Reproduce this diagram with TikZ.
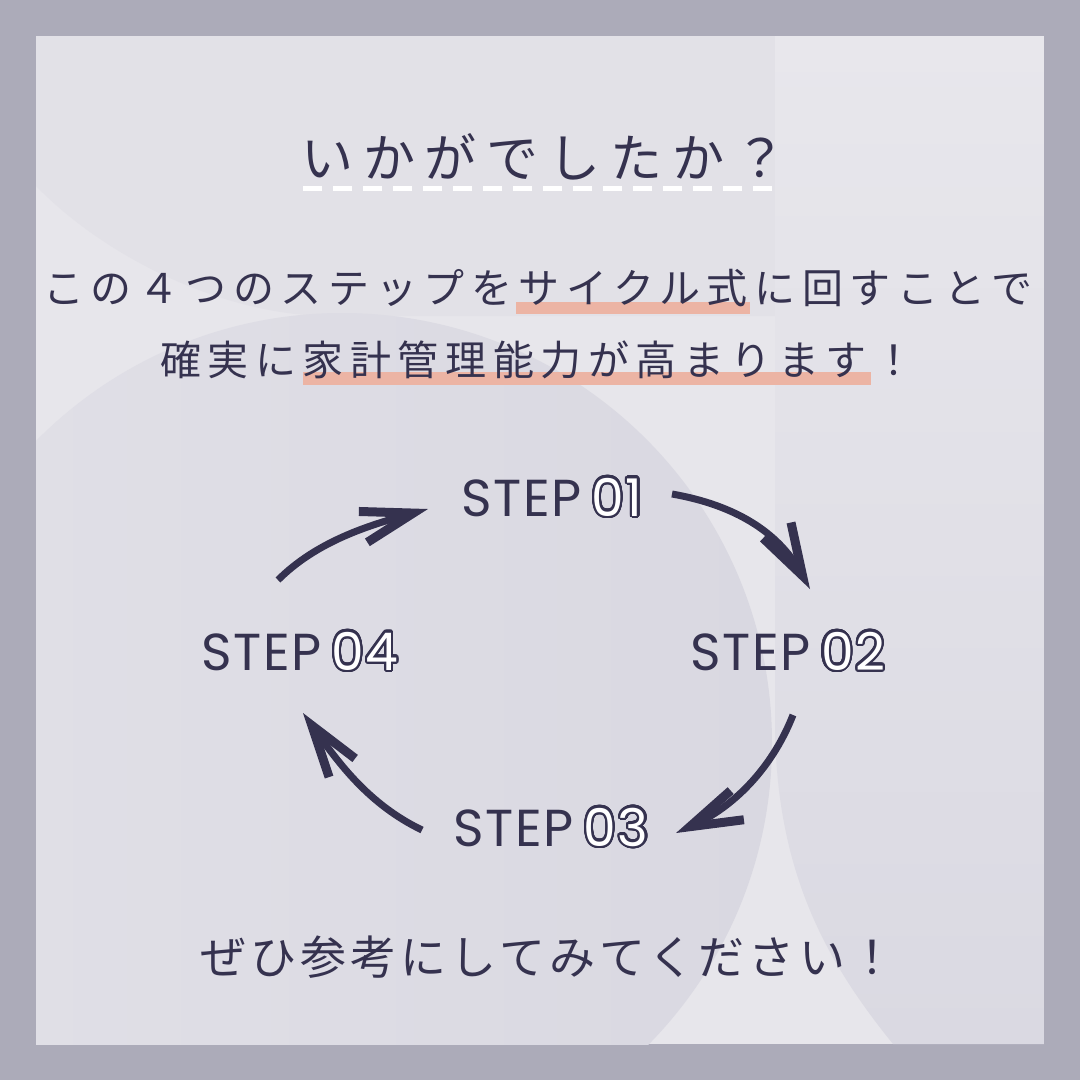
\documentclass[tikz,border=0pt]{standalone}
\usepackage{fontspec}
\usepackage{contour}
\usetikzlibrary{arrows.meta}
\newfontfamily\titlefont{Noto Sans CJK JP}[LetterSpace=19]
\newfontfamily\bodyfont{Noto Sans CJK JP}[LetterSpace=16]
\newfontfamily\closefont{Noto Sans CJK JP}[LetterSpace=9]
\newfontfamily\stepfont{Poppins}[LetterSpace=3]
\definecolor{frame}{HTML}{ACABB9}
\definecolor{panel}{HTML}{E7E6EB}
\definecolor{patch}{HTML}{E2E1E7}
\definecolor{bigdiscL}{HTML}{E1E0E7}
\definecolor{bigdiscR}{HTML}{D9D8E1}
\definecolor{sidetop}{HTML}{E8E7EC}
\definecolor{sidebottom}{HTML}{DAD9E2}
\definecolor{ink}{HTML}{35324F}
\definecolor{marker}{HTML}{ECB4A4}
\contourlength{2.2pt}
\contournumber{32}
\begin{document}
\begin{tikzpicture}[x=1pt,y=-1pt,
                    jptext/.style={inner sep=0pt,anchor=base west,text=ink},
                    steplabel/.style={inner sep=0pt,anchor=base,text=ink,font=\stepfont\fontsize{52}{52}\selectfont},
                    cyclearrow/.style={draw=ink,line width=7pt,-{Straight Barb[sharp,length=52pt,width=32pt,line width=9pt]}}]
                      \useasboundingbox (0,0) rectangle (1080,1080);
                      \fill[frame] (0,0) rectangle (1080,1080);
                      \fill[panel] (36,36) rectangle (1044,1044);
                      \begin{scope}
                        \clip (36,36) rectangle (1044,1044);
                        \fill[patch] (36,36) -- (775,36) -- (775,316) -- (330,316) .. controls (230,316) and (110,262) .. (36,186) -- cycle;
                        \shade[left color=bigdiscL,right color=bigdiscR] (342,743) circle (430);
                        \shade[top color=sidetop,bottom color=sidebottom] (775,36) -- (775,720) .. controls (775,870) and (825,960) .. (893,1044) -- (1044,1044) -- (1044,36) -- cycle;
                      \end{scope}
                      \fill[marker] (516,302) rectangle (750,314);
                      \fill[marker] (303,372) rectangle (871,385);
                      \draw[white,line width=4.5pt,dash pattern=on 19pt off 11pt] (303,188.5) -- (772,188.5);
                      \node (title) at (301,177) [jptext,font=\titlefont\fontsize{52}{52}\selectfont] {いかがでしたか？};
                      \node (line1) at (43,303) [jptext,font=\bodyfont\fontsize{41}{41}\selectfont] {この４つのステップをサイクル式に回すことで};
                      \node (line2) at (160,375) [jptext,font=\bodyfont\fontsize{41}{41}\selectfont] {確実に家計管理能力が高まります！};
                      \node (closing) at (200,974) [jptext,font=\closefont\fontsize{46}{46}\selectfont] {ぜひ参考にしてみてください！};
                      \node (s1) at (552,516) [steplabel] {STEP\hspace{10pt}{\color{white}\contour{ink}{01}}};
                      \node (s2) at (788,670) [steplabel] {STEP\hspace{10pt}{\color{white}\contour{ink}{02}}};
                      \node (s3) at (551,846) [steplabel] {STEP\hspace{10pt}{\color{white}\contour{ink}{03}}};
                      \node (s4) at (300,670) [steplabel] {STEP\hspace{10pt}{\color{white}\contour{ink}{04}}};
                      \coordinate (a1s) at (672,494);
                      \coordinate (a1e) at (810,589);
                      \coordinate (a2s) at (793,715);
                      \coordinate (a2e) at (676,833);
                      \coordinate (a3s) at (422,830);
                      \coordinate (a3e) at (303,713);
                      \coordinate (a4s) at (278,580);
                      \coordinate (a4e) at (428,509);
                      \draw[cyclearrow] (a1s) .. controls (735,505) and (778,532) .. (a1e);
                      \draw[cyclearrow] (a2s) .. controls (771,771) and (731,808) .. (a2e);
                      \draw[cyclearrow] (a3s) .. controls (368,804) and (338,762) .. (a3e);
                      \draw[cyclearrow] (a4s) .. controls (317,541) and (370,525) .. (a4e);
                \end{tikzpicture}
\end{document}
